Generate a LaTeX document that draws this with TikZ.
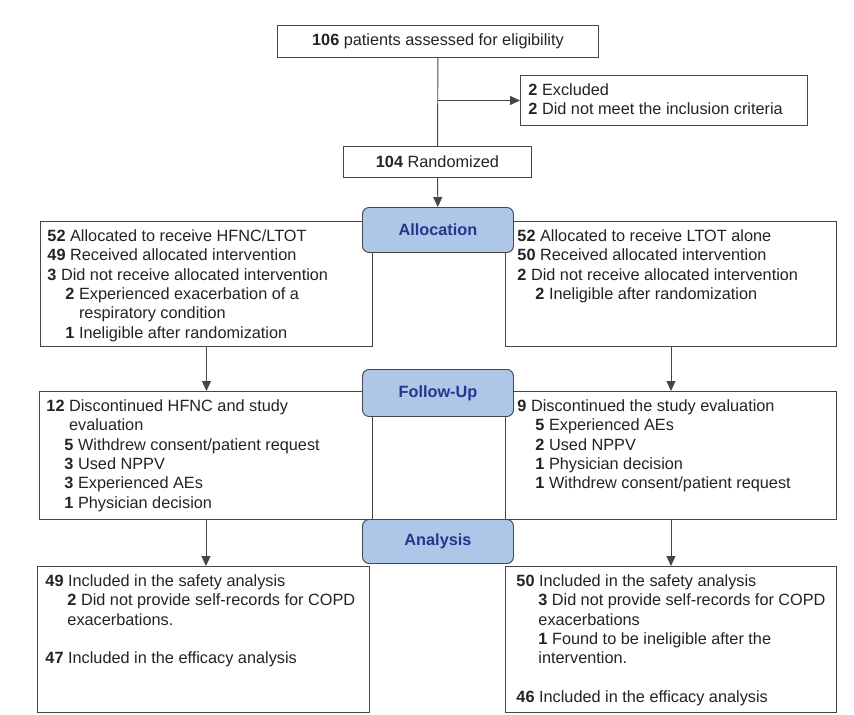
\documentclass[tikz,border=0pt]{standalone}
\usepackage{fontspec}
\setmainfont{Liberation Sans}
\usetikzlibrary{arrows.meta}
\definecolor{phasefill}{RGB}{174,198,232}
\definecolor{phasetext}{RGB}{35,55,140}
\definecolor{boxline}{RGB}{70,70,70}
\definecolor{ink}{RGB}{35,35,35}
\newcommand{\panel}[3]{\parbox[t][#2][t]{#1}{#3}}
\newcommand{\ind}{\hspace*{0.54cm}}
\newcommand{\indb}{\hspace*{0.66cm}}
\begin{document}
\begin{tikzpicture}[x=0.03cm,y=-0.03cm,
  every node/.style={font=\fontsize{13.9}{16.5}\selectfont,text=ink},
  box/.style={draw=boxline,line width=0.8pt,anchor=north west,inner sep=0pt},
  panel/.style={box,align=left,inner xsep=#1,inner ysep=0.25cm},
  phase/.style={draw=boxline,line width=0.8pt,fill=phasefill,rounded corners=0.2cm,
    anchor=north west,minimum width=4.53cm,text=phasetext,font=\fontsize{13.9}{16.5}\selectfont\bfseries},
  link/.style={draw=boxline,line width=0.8pt},
  arrow/.style={link,-{Triangle[length=0.3cm,width=0.27cm]}}]
\useasboundingbox (0,0) rectangle (854,714);
\node[box,minimum width=9.63cm,minimum height=0.96cm] (top) at (277,25) {\textbf{106} patients assessed for eligibility};
\node[panel=0.24cm] (excl) at (520,75) {\panel{8.13cm}{1.0cm}{\textbf{2} Excluded\\\textbf{2} Did not meet the inclusion criteria}};
\node[box,minimum width=5.64cm,minimum height=0.93cm] (rand) at (343,146) {\textbf{104} Randomized};
% allocation
\node[panel=0.21cm] (allocL) at (40,221) {\panel{9.54cm}{3.25cm}{%
\textbf{52} Allocated to receive HFNC/LTOT\\
\textbf{49} Received allocated intervention\\
\textbf{3} Did not receive allocated intervention\\
\ind\textbf{2} Experienced exacerbation of a\\
\ind\phantom{\textbf{2}} respiratory condition\\
\ind\textbf{1} Ineligible after randomization}};
\node[panel=0.36cm] (allocR) at (505,221) {\panel{9.21cm}{3.25cm}{%
\textbf{52} Allocated to receive LTOT alone\\
\textbf{50} Received allocated intervention\\
\textbf{2} Did not receive allocated intervention\\
\ind\textbf{2} Ineligible after randomization}};
% follow-up
\node[panel=0.21cm] (followL) at (39,391) {\panel{9.57cm}{3.34cm}{%
\textbf{12} Discontinued HFNC and study\\
\phantom{\textbf{12}} evaluation\\
\ind\textbf{5} Withdrew consent/patient request\\
\ind\textbf{3} Used NPPV\\
\ind\textbf{3} Experienced AEs\\
\ind\textbf{1} Physician decision}};
\node[panel=0.36cm] (followR) at (505,391) {\panel{9.21cm}{3.34cm}{%
\textbf{9} Discontinued the study evaluation\\
\ind\textbf{5} Experienced AEs\\
\ind\textbf{2} Used NPPV\\
\ind\textbf{1} Physician decision\\
\ind\textbf{1} Withdrew consent/patient request}};
% analysis
\node[panel=0.24cm] (anaL) at (37,566) {\panel{9.48cm}{3.88cm}{%
\textbf{49} Included in the safety analysis\\
\indb\textbf{2} Did not provide self-records for COPD\\
\indb exacerbations.\\[16.5pt]
\textbf{47} Included in the efficacy analysis}};
\node[panel=0.33cm] (anaR) at (505,566) {\panel{9.27cm}{3.88cm}{%
\textbf{50} Included in the safety analysis\\
\indb\textbf{3} Did not provide self-records for COPD\\
\indb exacerbations\\
\indb\textbf{1} Found to be ineligible after the\\
\indb intervention.\\[16.5pt]
\textbf{46} Included in the efficacy analysis}};
% phase labels
\node[phase,minimum height=1.35cm] (alloc) at (362,207) {Allocation};
\node[phase,minimum height=1.41cm] (follow) at (362,369) {Follow-Up};
\node[phase,minimum height=1.32cm] (ana) at (362,519) {Analysis};
% connectors
\draw[link] (top) -- (rand);
\draw[arrow] (excl.west -| top.south) -- (excl.west);
\draw[arrow] (rand) -- (alloc);
\draw[arrow] (allocL.south) -- (allocL.south |- followL.north);
\draw[arrow] (allocR.south) -- (allocR.south |- followR.north);
\draw[arrow] (followL.south) -- (followL.south |- anaL.north);
\draw[arrow] (followR.south) -- (followR.south |- anaR.north);
\end{tikzpicture}
\end{document}
